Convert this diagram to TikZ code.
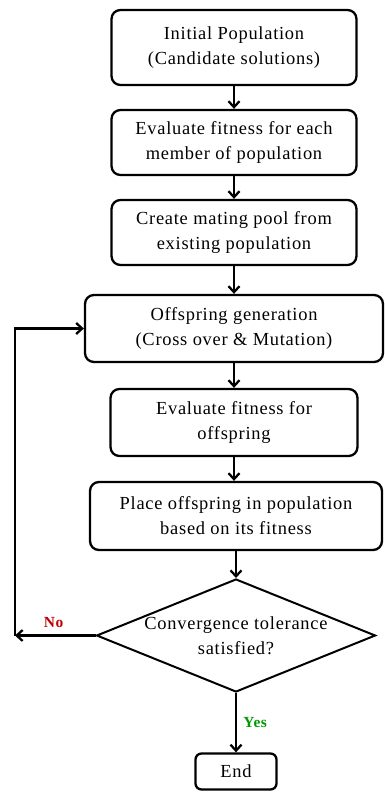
\documentclass[tikz,border=0pt]{standalone}
\usepackage{fontspec}
\setmainfont[LetterSpace=4]{Liberation Serif}
\usetikzlibrary{shapes.geometric,arrows.meta}
\tikzset{gabox/.style = {draw, line width=2.3pt, rounded corners=9pt, align=center,
                         font=\fontsize{18.5}{25}\selectfont, inner sep=2pt},
         gadec/.style = {draw, diamond, shape aspect=2.47, line width=2pt, align=center,
                         font=\fontsize{18.5}{25}\selectfont, inner sep=0pt},
         flow/.style  = {line width=2.3pt, -{Straight Barb[length=6pt,width=11pt,line width=2.3pt]}},
         flowlbl/.style = {font=\bfseries\fontsize{15.5}{17}\selectfont}}
\begin{document}
\begin{tikzpicture}[x=1bp,y=-1bp]
    \useasboundingbox (0,0) rectangle (384,792);
    \node[gabox,minimum width=245bp,minimum height=75bp](init)at(234,47.5){Initial Population\\(Candidate solutions)};
    \node[gabox,minimum width=245bp,minimum height=65bp](evpop)at(234,142.5){Evaluate fitness for each\\member of population};
    \node[gabox,minimum width=245bp,minimum height=65bp](pool)at(234,232.5){Create mating pool from\\existing population};
    \node[gabox,minimum width=298bp,minimum height=67bp](offs)at(234,328.5){Offspring generation\\(Cross over \& Mutation)};
    \node[gabox,minimum width=247bp,minimum height=67bp](evoff)at(234,422.5){Evaluate fitness for\\offspring};
    \node[gabox,minimum width=292bp,minimum height=68bp](place)at(236,516){Place offspring in population\\based on its fitness};
    \node[gadec,minimum width=279bp,minimum height=113bp](conv)at(236,635.5){Convergence tolerance\\satisfied?};
    \node[gabox,rounded corners=6pt,minimum width=81bp,minimum height=36bp](stop)at(236,771.5){End};
    \coordinate (back) at (15,635.5);

    \draw[flow](init)--(evpop);
    \draw[flow](evpop)--(pool);
    \draw[flow](pool)--(offs);
    \draw[flow](offs)--(evoff);
    \draw[flow](evoff.south)--(evoff.south|-place.north);
    \draw[flow](place)--(conv);
    \draw[flow](conv)--node[right,pos=0.5,xshift=3pt,text=green!60!black,flowlbl]{Yes}(stop);
    \draw[flow](conv.west)--node[above,pos=0.52,yshift=3pt,text=red!75!black,flowlbl]{No}(back);
    \draw[flow](back)|-(offs.west);
\end{tikzpicture}
\end{document}
